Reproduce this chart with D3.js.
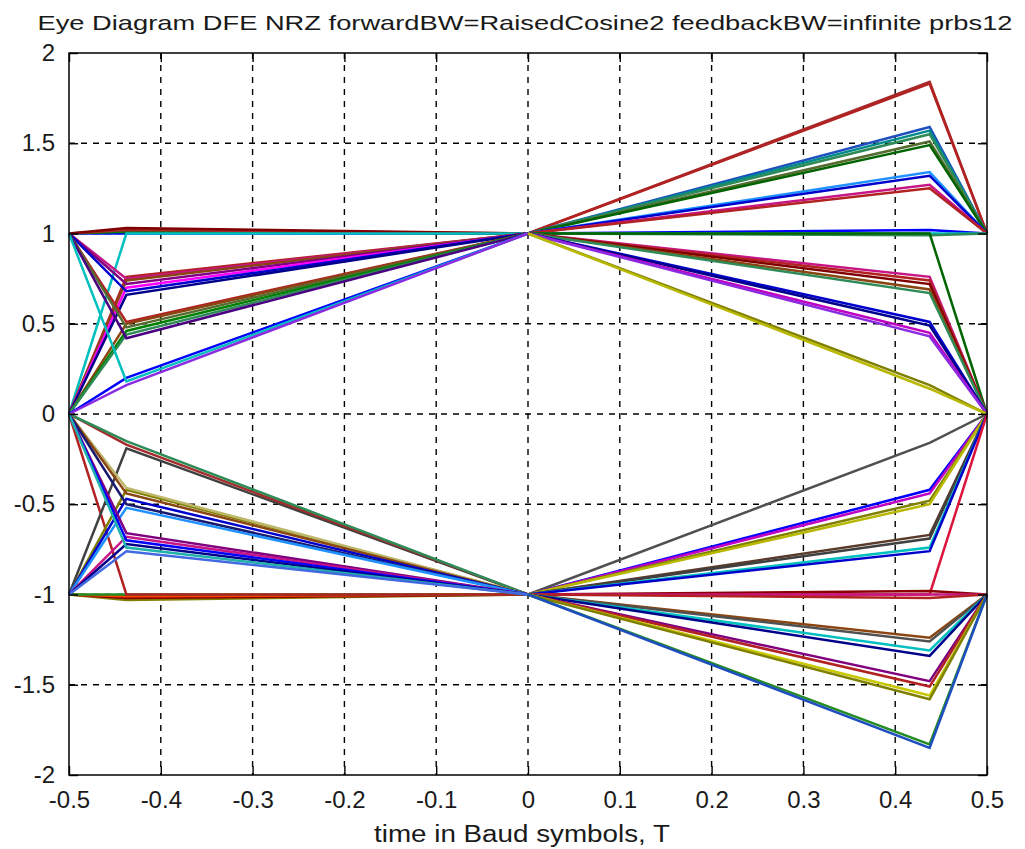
<!DOCTYPE html>
<html>
<head>
<meta charset="utf-8">
<script src="https://cdn.jsdelivr.net/npm/d3@7"></script>
<style>
  body { margin: 0; background: #fff; }
  text { font-family: "Liberation Sans", Arial, sans-serif; fill: #1a1a1a; }
</style>
</head>
<body>
<div id="chart"></div>
<script>
// sample instants of one symbol (left half and right half of the eye)
const leftX = [-0.5, -0.4375, 0];
const rightX = [0, 0.4375, 0.5];

// traces, values at leftX
const leftSegments = [
  [1, 1.00, 1], [1, 1.01, 1], [1, 1.02, 1], [1, 1.03, 1], [0, 1.00, 1],
  [0, 0.76, 1], [1, 0.75, 1], [0, 0.74, 1], [1, 0.72, 1], [0, 0.70, 1],
  [1, 0.68, 1], [0, 0.66, 1], [1, 0.51, 1], [0, 0.50, 1], [1, 0.48, 1],
  [0, 0.46, 1], [0, 0.44, 1], [1, 0.42, 1], [0, 0.20, 1], [1, 0.18, 1],
  [0, 0.16, 1],
  [-1, -1.03, -1], [-1, -1.02, -1], [-1, -1.01, -1], [-1, -1.00, -1], [0, -1.00, -1],
  [-1, -0.19, -1], [0, -0.17, -1], [0, -0.15, -1], [-1, -0.42, -1], [0, -0.41, -1],
  [0, -0.44, -1], [-1, -0.47, -1], [0, -0.50, -1], [-1, -0.52, -1], [0, -0.66, -1],
  [-1, -0.68, -1], [0, -0.70, -1], [-1, -0.72, -1], [0, -0.74, -1], [-1, -0.76, -1]
];

// traces, values at rightX
const rightSegments = [
  [1, 1.84, 1], [1, 1.83, 1], [1, 1.59, 1], [1, 1.57, 1], [1, 1.55, 1],
  [1, 1.51, 1], [1, 1.49, 1], [1, 1.34, 1], [1, 1.32, 1], [1, 1.27, 1],
  [1, 1.25, 1], [1, 1.02, 1], [1, 1.00, 1], [1, 0.99, 1], [1, 1.00, 0],
  [1, 0.76, 0], [1, 0.74, 0], [1, 0.72, 0], [1, 0.69, 0], [1, 0.67, 0],
  [1, 0.51, 0], [1, 0.49, 0], [1, 0.45, 0], [1, 0.43, 0], [1, 0.16, 0],
  [1, 0.14, 0],
  [-1, -0.16, 0], [-1, -0.42, 0], [-1, -0.44, 0], [-1, -0.48, 0], [-1, -0.50, 0],
  [-1, -0.67, 0], [-1, -0.69, 0], [-1, -0.74, 0], [-1, -0.76, 0], [-1, -1.00, 0],
  [-1, -0.98, -1], [-1, -1.00, -1], [-1, -1.02, -1], [-1, -1.24, -1], [-1, -1.26, -1],
  [-1, -1.31, -1], [-1, -1.34, -1], [-1, -1.48, -1], [-1, -1.51, -1], [-1, -1.56, -1],
  [-1, -1.58, -1], [-1, -1.83, -1], [-1, -1.85, -1]
];

const xTicks = [-0.5, -0.4, -0.3, -0.2, -0.1, 0, 0.1, 0.2, 0.3, 0.4, 0.5];
const yTicks = [-2, -1.5, -1, -0.5, 0, 0.5, 1, 1.5, 2];

const titleText = "Eye Diagram DFE NRZ forwardBW=RaisedCosine2 feedbackBW=infinite prbs12";
const xLabel = "time in Baud symbols, T";

// trace colours (random-ish like matlab's eye plot)
const leftColors = [
  "#0000ff", "#008000", "#a52a2a", "#800000", "#00bfbf",
  "#b22222", "#c71585", "#8b4513", "#800080", "#ff00ff",
  "#0000cd", "#00008b", "#b22222", "#8b4513", "#556b2f",
  "#008000", "#2e8b57", "#4b0082", "#0000ff", "#00bfbf",
  "#8a2be2",
  "#808000", "#8b0000", "#ff4500", "#228b22", "#b22222",
  "#404040", "#a52a2a", "#2e8b57", "#808000", "#bdb76b",
  "#8b4513", "#0000cd", "#191970", "#1e90ff", "#800080",
  "#c71585", "#0000ff", "#00008b", "#20b2aa", "#4169e1"
];
const rightColors = [
  "#a52a2a", "#b22222", "#1f4fbf", "#008b8b", "#2e8b57",
  "#556b2f", "#006400", "#1e90ff", "#0000cd", "#c71585",
  "#b22222", "#0000ff", "#00bfbf", "#2e8b57", "#006400",
  "#c71585", "#b22222", "#800000", "#8b4513", "#2e8b57",
  "#0000cd", "#00008b", "#c000c0", "#8a2be2", "#808000",
  "#b8b800",
  "#505050", "#0000ff", "#c000c0", "#808000", "#b8b800",
  "#5a3a2a", "#404040", "#00bfbf", "#0000cd", "#dc143c",
  "#8b0000", "#c71585", "#b22222", "#8b4513", "#505050",
  "#00bfbf", "#00008b", "#800080", "#b22222", "#c8c800",
  "#808000", "#228b22", "#1f4fbf"
];

const width = 1025;
const height = 849;
const margin = { top: 53, right: 38, bottom: 74, left: 69 };

const svg = d3.select("#chart")
  .append("svg")
  .attr("width", width)
  .attr("height", height);

const x = d3.scaleLinear()
  .domain([-0.5, 0.5])
  .range([margin.left, width - margin.right]);

const y = d3.scaleLinear()
  .domain([-2, 2])
  .range([height - margin.bottom, margin.top]);

const x0 = x.range()[0], x1 = x.range()[1];
const y0 = y.range()[1], y1 = y.range()[0];

// grid
const grid = svg.append("g")
  .attr("stroke", "#000")
  .attr("stroke-width", 1.4)
  .attr("stroke-dasharray", "6,6");

grid.selectAll(".gx")
  .data(xTicks.slice(1, -1))
  .enter()
  .append("line")
  .attr("x1", d => x(d)).attr("x2", d => x(d))
  .attr("y1", y0).attr("y2", y1);

grid.selectAll(".gy")
  .data(yTicks.slice(1, -1))
  .enter()
  .append("line")
  .attr("y1", d => y(d)).attr("y2", d => y(d))
  .attr("x1", x0).attr("x2", x1);

// traces
const leftLine = d3.line()
  .x((d, i) => x(leftX[i]))
  .y(d => y(d));

const rightLine = d3.line()
  .x((d, i) => x(rightX[i]))
  .y(d => y(d));

svg.append("g")
  .selectAll("path")
  .data(leftSegments)
  .enter()
  .append("path")
  .attr("fill", "none")
  .attr("stroke", (d, i) => leftColors[i % leftColors.length])
  .attr("stroke-width", 2.5)
  .attr("d", leftLine);

svg.append("g")
  .selectAll("path")
  .data(rightSegments)
  .enter()
  .append("path")
  .attr("fill", "none")
  .attr("stroke", (d, i) => rightColors[i % rightColors.length])
  .attr("stroke-width", 2.5)
  .attr("d", rightLine);

// axes, ticks pointing inside
const tickLen = 9;
const fontSize = 24;

svg.append("g")
  .attr("transform", `translate(0,${y1})`)
  .call(d3.axisBottom(x).tickValues(xTicks).tickSize(-tickLen).tickPadding(16)
    .tickFormat(d => d3.format("")(d).replace("−", "-")));

svg.append("g")
  .attr("transform", `translate(${x0},0)`)
  .call(d3.axisLeft(y).tickValues(yTicks).tickSize(-tickLen).tickPadding(14)
    .tickFormat(d => d3.format("")(d).replace("−", "-")));

svg.append("g")
  .attr("transform", `translate(0,${y0})`)
  .call(d3.axisTop(x).tickValues(xTicks).tickSize(-tickLen).tickFormat(""));

svg.append("g")
  .attr("transform", `translate(${x1},0)`)
  .call(d3.axisRight(y).tickValues(yTicks).tickSize(-tickLen).tickFormat(""));

svg.selectAll(".domain").remove();
svg.selectAll(".tick line").attr("stroke", "#000").attr("stroke-width", 1.4);
svg.selectAll(".tick text")
  .attr("fill", "#1a1a1a")
  .style("font-size", fontSize + "px")
  .style("font-family", "'Liberation Sans', Arial, sans-serif");

// box
svg.append("rect")
  .attr("x", x0).attr("y", y0)
  .attr("width", x1 - x0).attr("height", y1 - y0)
  .attr("fill", "none")
  .attr("stroke", "#000")
  .attr("stroke-width", 1.5);

// title and label
svg.append("text")
  .attr("x", 525).attr("y", 30)
  .attr("text-anchor", "middle")
  .attr("textLength", 975)
  .attr("lengthAdjust", "spacingAndGlyphs")
  .style("font-size", "21px")
  .text(titleText);

svg.append("text")
  .attr("x", 522).attr("y", 842)
  .attr("text-anchor", "middle")
  .attr("textLength", 296)
  .attr("lengthAdjust", "spacingAndGlyphs")
  .style("font-size", "23px")
  .text(xLabel);
</script>
</body>
</html>
